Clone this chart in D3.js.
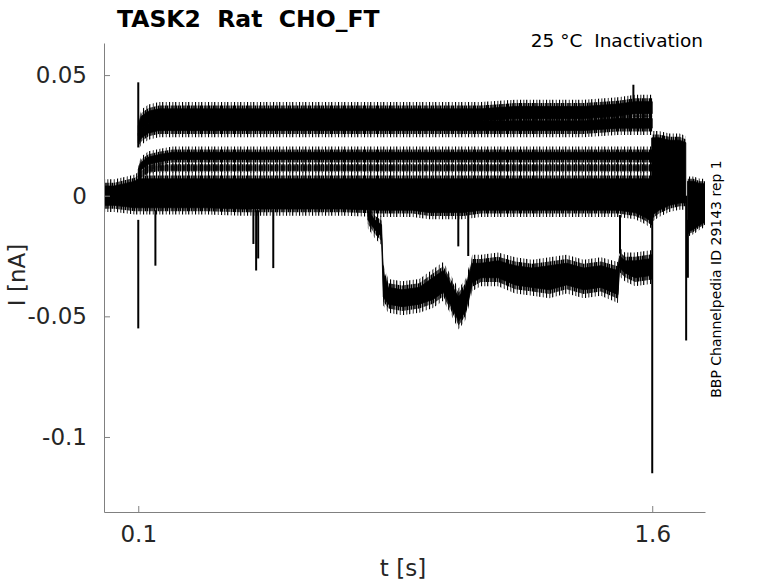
<!DOCTYPE html>
<html>
<head>
<meta charset="utf-8">
<script src="https://cdn.jsdelivr.net/npm/d3@7"></script>
<style>
body { margin: 0; background: #fff; }
svg { display: block; font-family: "DejaVu Sans", sans-serif; }
</style>
</head>
<body>
<div id="area"></div>
<script>
const xTicks = [0.1, 1.6]
const yTicks = [0.05, 0, -0.05, -0.1]
const yTickLabels = ["0.05", "0", "-0.05", "-0.1"]

// time base of the voltage step (s)
const stepT = [0.1, 0.11, 0.13, 0.16, 0.2, 0.3, 0.4, 0.5, 0.6, 0.7, 0.8, 0.9, 1.0, 1.1, 1.2, 1.3, 1.4, 1.5, 1.55, 1.6]

// top sweeps (nA), core of the noise band
const topHiA = [0.029, 0.033, 0.035, 0.036, 0.036, 0.036, 0.036, 0.036, 0.036, 0.036, 0.036, 0.036, 0.036, 0.036, 0.037, 0.037, 0.037, 0.038, 0.039, 0.039]
const topLoA = [0.025, 0.028, 0.030, 0.031, 0.031, 0.031, 0.031, 0.031, 0.031, 0.031, 0.031, 0.031, 0.031, 0.031, 0.032, 0.032, 0.032, 0.033, 0.034, 0.034]
const topHiB = [0.026, 0.028, 0.030, 0.031, 0.031, 0.031, 0.031, 0.031, 0.031, 0.031, 0.031, 0.031, 0.031, 0.031, 0.031, 0.031, 0.031, 0.032, 0.032, 0.032]
const topLoB = [0.022, 0.024, 0.026, 0.027, 0.027, 0.027, 0.027, 0.027, 0.027, 0.027, 0.027, 0.027, 0.027, 0.027, 0.027, 0.027, 0.027, 0.028, 0.028, 0.028]

// middle sweeps
const midHiA = [0.011, 0.014, 0.016, 0.017, 0.018, 0.018, 0.018, 0.018, 0.018, 0.018, 0.018, 0.018, 0.018, 0.018, 0.018, 0.018, 0.018, 0.018, 0.018, 0.018]
const midLoA = [0.008, 0.011, 0.013, 0.014, 0.015, 0.015, 0.015, 0.015, 0.015, 0.015, 0.015, 0.015, 0.015, 0.015, 0.015, 0.015, 0.015, 0.015, 0.015, 0.015]
const midHiB = [0.008, 0.010, 0.012, 0.0125, 0.0125, 0.0125, 0.0125, 0.0125, 0.0125, 0.0125, 0.0125, 0.0125, 0.0125, 0.0125, 0.0125, 0.0125, 0.0125, 0.0125, 0.0125, 0.0125]
const midLoB = [0.006, 0.008, 0.010, 0.0105, 0.0105, 0.0105, 0.0105, 0.0105, 0.0105, 0.0105, 0.0105, 0.0105, 0.0105, 0.0105, 0.0105, 0.0105, 0.0105, 0.0105, 0.0105, 0.0105]

// sweeps around zero, holding + step
const zeroT = [0, 0.03, 0.06, 0.09, 0.1, 0.13, 0.2, 0.3, 0.4, 0.5, 0.6, 0.7, 0.8, 0.9, 0.95, 1.0, 1.05, 1.1, 1.2, 1.3, 1.4, 1.5, 1.55, 1.58, 1.6]
const zeroHi = [0.004, 0.004, 0.005, 0.006, 0.007, 0.007, 0.007, 0.007, 0.007, 0.007, 0.007, 0.007, 0.007, 0.007, 0.007, 0.007, 0.007, 0.007, 0.007, 0.007, 0.007, 0.007, 0.007, 0.007, 0.007]
const zeroLo = [-0.004, -0.004, -0.0045, -0.005, -0.005, -0.005, -0.005, -0.005, -0.0055, -0.0055, -0.0055, -0.0055, -0.006, -0.006, -0.007, -0.007, -0.007, -0.006, -0.006, -0.006, -0.006, -0.006, -0.007, -0.009, -0.011]

// the sweep that drops negative
const negT = [0.77, 0.79, 0.81, 0.815, 0.83, 0.87, 0.92, 0.96, 0.99, 1.01, 1.035, 1.055, 1.075, 1.1, 1.15, 1.2, 1.25, 1.3, 1.35, 1.4, 1.45, 1.5, 1.505, 1.52, 1.55, 1.6]
const negHi = [-0.006, -0.010, -0.012, -0.032, -0.038, -0.039, -0.038, -0.034, -0.031, -0.036, -0.042, -0.038, -0.028, -0.028, -0.027, -0.029, -0.030, -0.029, -0.028, -0.030, -0.029, -0.031, -0.025, -0.027, -0.027, -0.026]
const negLo = [-0.010, -0.014, -0.017, -0.042, -0.045, -0.046, -0.045, -0.043, -0.040, -0.045, -0.052, -0.048, -0.036, -0.034, -0.034, -0.037, -0.038, -0.039, -0.037, -0.039, -0.038, -0.041, -0.030, -0.032, -0.034, -0.033]

// tails after the step
const tailT = [1.6, 1.62, 1.65, 1.68, 1.698]
const tailHi = [0.024, 0.024, 0.023, 0.023, 0.022]
const tailLo = [-0.008, -0.006, -0.004, -0.003, -0.003]
const tail2T = [1.703, 1.72, 1.74, 1.754]
const tail2Hi = [0.006, 0.006, 0.005, 0.005]
const tail2Lo = [-0.015, -0.014, -0.012, -0.011]

// single fast transients: time, start, end (nA)
const spikeT = [0.1, 0.1, 0.15, 0.436, 0.444, 0.45, 0.494, 1.034, 1.063, 1.506, 1.545, 1.6, 1.699, 1.704]
const spikeFrom = [0.02, -0.01, -0.006, -0.006, -0.006, -0.006, -0.006, -0.007, -0.007, -0.008, 0.036, 0.024, 0.0, -0.01]
const spikeTo = [0.047, -0.055, -0.029, -0.020, -0.031, -0.026, -0.030, -0.021, -0.025, -0.024, 0.046, -0.115, -0.060, -0.034]

const width = 778
const height = 583

const bands = [
    {t: zeroT, hi: zeroHi, lo: zeroLo, noise: 0.0028},
    {t: stepT, hi: midHiB, lo: midLoB, noise: 0.001, faint: true},
    {t: stepT, hi: midHiA, lo: midLoA, noise: 0.0024},
    {t: stepT, hi: topHiB, lo: topLoB, noise: 0.0028},
    {t: stepT, hi: topHiA, lo: topLoA, noise: 0.0028},
    {t: negT, hi: negHi, lo: negLo, noise: 0.0035},
    {t: tailT, hi: tailHi, lo: tailLo, noise: 0.0028},
    {t: tail2T, hi: tail2Hi, lo: tail2Lo, noise: 0.002}
]

const x = d3.scaleLinear().domain([0, 1.754]).range([104, 705])
const y = d3.scaleLinear().domain([-0.1311, 0.0633]).range([512, 43])

// vertical hatching so the band edges read as sampled noise
function hatch(defs, id, w, bars) {
    const p = defs.append("pattern")
        .attr("id", id)
        .attr("patternUnits", "userSpaceOnUse")
        .attr("width", w).attr("height", 40)
    bars.forEach(b => {
        p.append("rect").attr("x", b[0]).attr("y", 0).attr("width", b[1]).attr("height", 40).attr("fill", "#000")
    })
}

function chart() {
    const svg = d3.create("svg")
        .attr("width", width)
        .attr("height", height)
        .attr("viewBox", [0, 0, width, height])

    const defs = svg.append("defs")
    defs.append("clipPath").attr("id", "plot")
        .append("rect").attr("x", 104).attr("y", 43).attr("width", 601).attr("height", 469)
    hatch(defs, "dense", 11, [[0, 1.4], [1.8, 1.2], [3.6, 1.6], [5.8, 1], [7.2, 1.5], [9.3, 1.1]])
    hatch(defs, "sparse", 13, [[0, 1.1], [3.4, 0.9], [6.1, 1.2], [9.8, 0.8]])

    const g = svg.append("g").attr("clip-path", "url(#plot)")

    bands.forEach(b => {
        const pts = b.t.map((t, i) => ({t: t, hi: b.hi[i], lo: b.lo[i]}))
        const band = k => d3.area().x(d => x(d.t)).y0(d => y(d.lo - b.noise * k)).y1(d => y(d.hi + b.noise * k))
        g.append("path").datum(pts)
            .attr("d", band(1))
            .attr("fill", "url(#sparse)")
        g.append("path").datum(pts)
            .attr("d", band(0.5))
            .attr("fill", "url(#dense)")
        g.append("path").datum(pts)
            .attr("d", band(0))
            .attr("fill", b.faint ? "url(#dense)" : "#000")
            .attr("stroke", "#000")
            .attr("stroke-width", b.faint ? 0 : 0.8)
    })

    g.append("g")
        .attr("stroke", "#000")
        .attr("stroke-width", 2)
        .selectAll("line")
        .data(spikeT.map((t, i) => ({t: t, a: spikeFrom[i], b: spikeTo[i]})))
        .join("line")
        .attr("x1", d => x(d.t)).attr("x2", d => x(d.t))
        .attr("y1", d => y(d.a)).attr("y2", d => y(d.b))

    const yAxis = svg.append("g")
        .attr("transform", "translate(104,0)")
        .call(d3.axisLeft(y).tickValues(yTicks).tickFormat((d, i) => yTickLabels[i])
            .tickSizeInner(-6).tickSizeOuter(0).tickPadding(17))
    const xAxis = svg.append("g")
        .attr("transform", "translate(0,512)")
        .call(d3.axisBottom(x).tickValues(xTicks).tickFormat(d3.format(".1f"))
            .tickSizeInner(-6).tickSizeOuter(0).tickPadding(14))

    ;[yAxis, xAxis].forEach(a => {
        a.select(".domain").attr("stroke", "#808080")
        a.selectAll(".tick line").attr("stroke", "#808080")
        a.selectAll(".tick text")
            .attr("fill", "#262626")
            .attr("font-size", 23)
            .attr("font-family", "DejaVu Sans")
    })

    svg.append("text")
        .attr("transform", "translate(25,275) rotate(-90)")
        .attr("text-anchor", "middle")
        .attr("font-size", 23)
        .attr("fill", "#262626")
        .text("I [nA]")

    svg.append("text")
        .attr("x", 403).attr("y", 576)
        .attr("text-anchor", "middle")
        .attr("font-size", 23)
        .attr("fill", "#262626")
        .text("t [s]")

    svg.append("text")
        .attr("x", 117).attr("y", 27)
        .attr("font-size", 23.5)
        .attr("font-weight", "bold")
        .attr("fill", "#000")
        .style("white-space", "pre")
        .text("TASK2  Rat  CHO_FT")

    svg.append("text")
        .attr("x", 703).attr("y", 47)
        .attr("text-anchor", "end")
        .attr("font-size", 18.5)
        .attr("fill", "#000")
        .style("white-space", "pre")
        .text("25 °C  Inactivation")

    svg.append("text")
        .attr("transform", "translate(721,279) rotate(-90)")
        .attr("text-anchor", "middle")
        .attr("font-size", 14)
        .attr("fill", "#000")
        .text("BBP Channelpedia ID 29143 rep 1")

    return svg.node()
}

document.querySelector("#area").appendChild(chart())
</script>
</body>
</html>
